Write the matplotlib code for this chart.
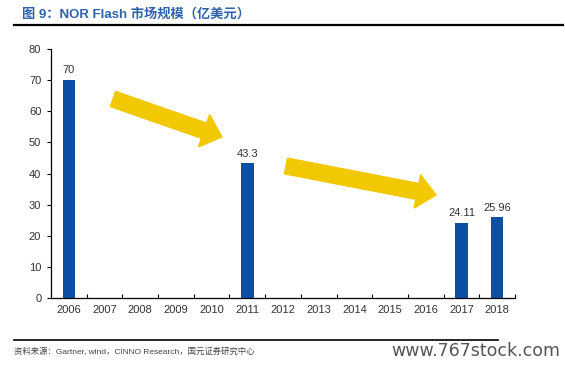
import matplotlib.pyplot as plt
from matplotlib.patches import FancyArrow
from matplotlib.lines import Line2D
import matplotlib.transforms as mtransforms

plt.rcParams['font.family'] = ['Liberation Sans', 'Noto Sans CJK SC', 'DejaVu Sans']

years = ['2006', '2007', '2008', '2009', '2010', '2011', '2012',
         '2013', '2014', '2015', '2016', '2017', '2018']
values = [70, None, None, None, None, 43.3, None, None, None, None, None, 24.11, 25.96]
labels = ['70', '', '', '', '', '43.3', '', '', '', '', '', '24.11', '25.96']

bar_color = '#0d4fa3'
arrow_color = '#f2c800'

fig = plt.figure(figsize=(5.65, 3.66), dpi=100)
ax = fig.add_axes([0.0903, 0.1858, 0.8212, 0.6802])

xs = list(range(len(years)))
heights = [v if v is not None else 0 for v in values]
ax.bar(xs, heights, width=0.35, color=bar_color)
for x, h, lab in zip(xs, heights, labels):
    if lab:
        ax.text(x, h + 1.5, lab, ha='center', va='bottom', fontsize=8, color='#333333')

ax.set_xlim(-0.5, len(years) - 0.5)
ax.set_ylim(0, 80)
ax.set_yticks(range(0, 81, 10))
ax.set_xticks(xs)
ax.set_xticklabels(years)
ax.set_xticks([x + 0.5 for x in xs], minor=True)
ax.tick_params(axis='x', which='major', length=0, labelsize=8, colors='#333333', pad=5)
ax.tick_params(axis='x', which='minor', direction='in', length=3, width=0.8)
ax.tick_params(axis='y', length=3, width=0.8, labelsize=8, colors='#333333', pad=4)
ax.tick_params(axis='y', colors='black', labelcolor='#333333')
for s in ['top', 'right']:
    ax.spines[s].set_visible(False)
for s in ['left', 'bottom']:
    ax.spines[s].set_linewidth(0.9)
    ax.spines[s].set_color('black')

# pixel coordinates (origin top-left) for the decorations
px = mtransforms.Affine2D().scale(1 / 565, -1 / 366).translate(0, 1) + fig.transFigure

def block_arrow(x0, y0, x1, y1):
    a = FancyArrow(x0, y0, x1 - x0, y1 - y0, width=16, head_width=34,
                   head_length=19, length_includes_head=True,
                   color=arrow_color, transform=px, zorder=5)
    fig.patches.append(a)

block_arrow(113, 99, 222, 137)
block_arrow(286, 166, 436, 195)

fig.text(22 / 565, 1 - 14 / 366, '图 9：NOR Flash 市场规模（亿美元）', fontsize=9.5,
         fontweight='bold', color='#2e62ad', va='center', ha='left')
fig.lines.append(Line2D([14 / 565, 563 / 565], [1 - 25 / 366] * 2,
                        transform=fig.transFigure, color='black', lw=1.6))
fig.lines.append(Line2D([14 / 565, 498 / 565], [1 - 340 / 366] * 2,
                        transform=fig.transFigure, color='black', lw=1.2))
fig.text(14 / 565, 1 - 352 / 366, '资料来源：Gartner, wind，CINNO Research，国元证券研究中心',
         fontsize=6, color='#444444', va='center', ha='left')
fig.text(560 / 565, 1 - 351 / 366, 'www.767stock.com', fontsize=12.5,
         color='#555555', va='center', ha='right', family='DejaVu Sans')

fig.savefig('out.png', dpi=100)
